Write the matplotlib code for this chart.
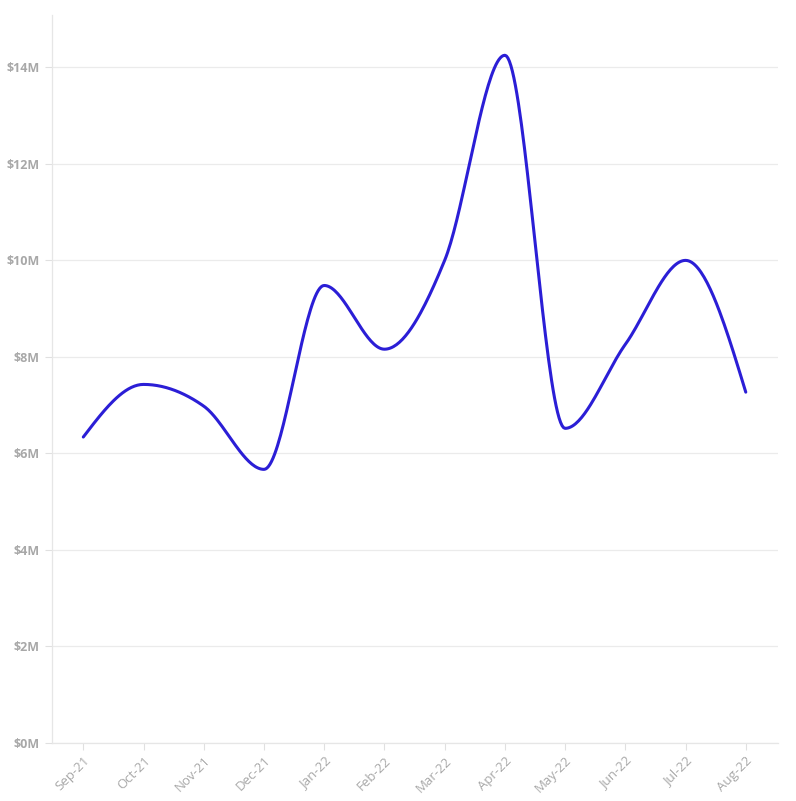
import numpy as np
import matplotlib.pyplot as plt
from matplotlib.ticker import FuncFormatter

months = ['Sep-21', 'Oct-21', 'Nov-21', 'Dec-21', 'Jan-22', 'Feb-22',
          'Mar-22', 'Apr-22', 'May-22', 'Jun-22', 'Jul-22', 'Aug-22']
revenue = [6.34, 7.43, 6.98, 5.67, 9.48, 8.16, 10.0, 14.25, 6.52, 8.26, 10.0, 7.27]  # $M


def monotone_x(x, y, n=40):
    # courbe lissée façon d3.curveMonotoneX
    x = np.asarray(x, float)
    y = np.asarray(y, float)
    h = np.diff(x)
    s = np.diff(y) / h
    t = np.zeros(len(x))
    for i in range(1, len(x) - 1):
        p = (s[i - 1] * h[i] + s[i] * h[i - 1]) / (h[i - 1] + h[i])
        t[i] = (np.sign(s[i - 1]) + np.sign(s[i])) * min(abs(s[i - 1]), abs(s[i]), 0.5 * abs(p))
    t[0] = (3 * s[0] - t[1]) / 2
    t[-1] = (3 * s[-1] - t[-2]) / 2
    xs, ys = [], []
    for i in range(len(x) - 1):
        u = np.linspace(0, 1, n, endpoint=(i == len(x) - 2))
        dx = h[i]
        p0, p3 = y[i], y[i + 1]
        p1 = y[i] + dx / 3 * t[i]
        p2 = y[i + 1] - dx / 3 * t[i + 1]
        xs.append(x[i] + dx * u)
        ys.append((1 - u) ** 3 * p0 + 3 * (1 - u) ** 2 * u * p1 + 3 * (1 - u) * u ** 2 * p2 + u ** 3 * p3)
    return np.concatenate(xs), np.concatenate(ys)


plt.rcParams['font.family'] = ['Open Sans', 'DejaVu Sans']

fig = plt.figure(figsize=(7.96, 8.01), dpi=100)
ax = fig.add_axes([0.0653, 0.0724, 0.9117, 0.9086])

pos = np.arange(len(months))
xs, ys = monotone_x(pos, revenue)
ax.plot(xs, ys, color='#2B1ED6', lw=2.2, solid_capstyle='round')

ax.set_xlim(-0.52, len(months) - 1 + 0.53)
ax.set_ylim(0, 15.08)
ax.set_yticks(np.arange(0, 15, 2))
ax.yaxis.set_major_formatter(FuncFormatter(lambda v, _: f'${v:.0f}M'))
ax.set_xticks(pos)
ax.set_xticklabels(months, rotation=45, ha='right', rotation_mode='anchor')

ax.grid(axis='y', color='#ebebeb', lw=0.9)
ax.set_axisbelow(True)
for side in ['top', 'right']:
    ax.spines[side].set_visible(False)
for side in ['left', 'bottom']:
    ax.spines[side].set_color('#e6e6e6')
    ax.spines[side].set_linewidth(0.9)

ax.tick_params(axis='x', colors='#e0e0e0', labelcolor='#a8a8a8', labelsize=9.5, length=5, pad=3)
ax.tick_params(axis='y', colors='#e0e0e0', labelcolor='#a8a8a8', labelsize=9, length=5, pad=4)
for lab in ax.get_yticklabels():
    lab.set_fontweight('bold')
for lab in ax.get_xticklabels():
    lab.set_x(lab.get_position()[0])

fig.savefig('out.png', dpi=100, facecolor='white')
